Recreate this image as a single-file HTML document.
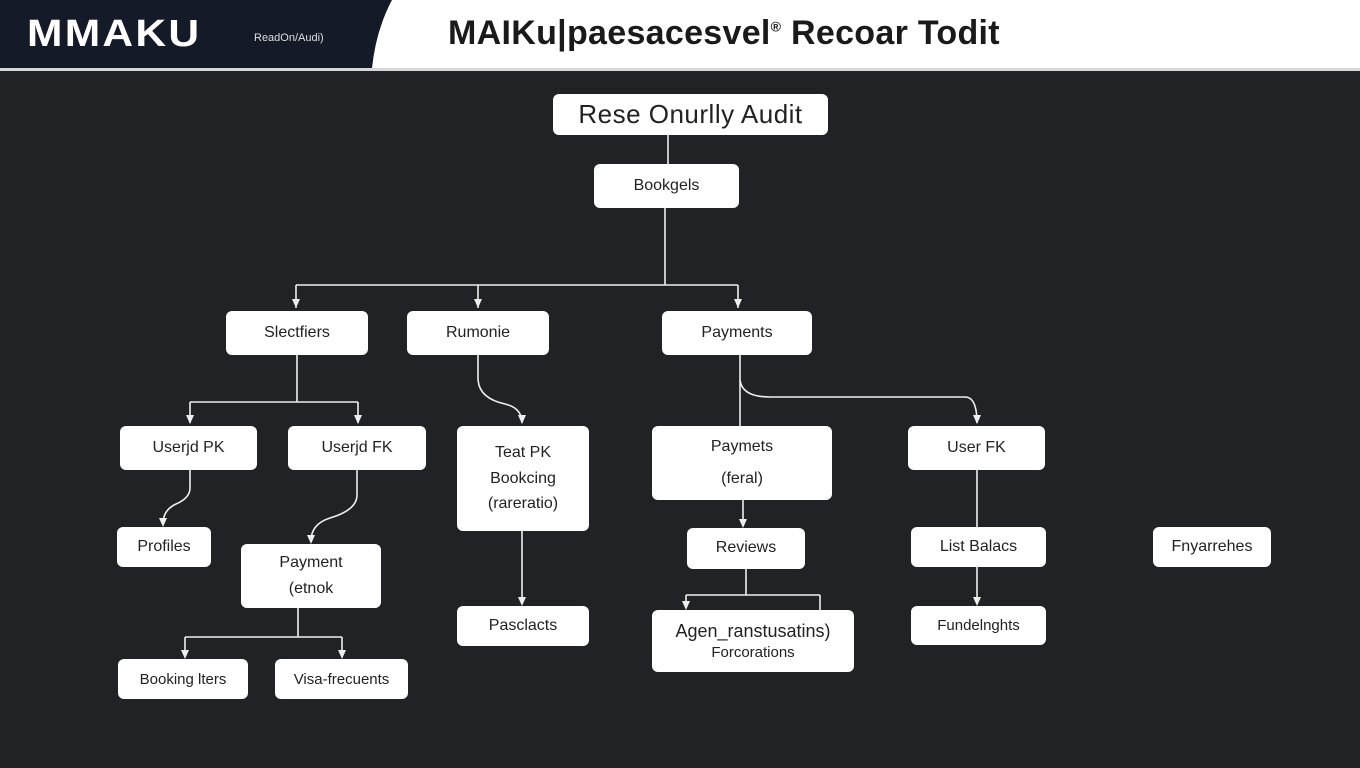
<!DOCTYPE html>
<html><head><meta charset="utf-8"><style>
body{margin:0;width:1360px;height:768px;overflow:hidden;background:#212225;font-family:"Liberation Sans",sans-serif;position:relative}
.b{position:absolute;background:#fff;border-radius:6px;color:#222;display:flex;flex-direction:column;align-items:center;justify-content:center;font-size:16px;text-align:center;line-height:1.4}
svg{position:absolute;left:0;top:0}
</style></head><body>
<div style="position:absolute;left:0;top:0;width:1360px;height:68px;background:#fff"></div>
<svg width="1360" height="72"><path d="M0 0 H392 Q376 30 372 68 H0 Z" fill="#151a28"/><rect x="0" y="68" width="1360" height="3" fill="#d8d8d8"/></svg>
<div style="position:absolute;left:27px;top:13px;color:#fff;font-size:38px;font-weight:bold;letter-spacing:2px;transform:scaleX(1.12);transform-origin:left">MMAKU</div>
<div style="position:absolute;left:254px;top:32px;color:#ddd;font-size:11px">ReadOn/Audi)</div>
<div style="position:absolute;left:448px;top:14px;color:#1a1a1a;font-size:34px;font-weight:bold;letter-spacing:0.3px">MAIKu|paesacesvel<sup style="font-size:14px">®</sup> Recoar Todit</div>

<svg width="1360" height="768" fill="none" stroke="#eee" stroke-width="1.6">
<g>
<path d="M668 135 V164"/>
<path d="M665 208 V285 M296 285 H738"/>
<path d="M296 285 V308 M478 285 V308 M738 285 V308"/>
<path d="M297 355 V402 M190 402 H358 M190 402 V423 M358 402 V423"/>
<path d="M478 355 V378 Q478 398 505 404 Q522 408 522 423"/>
<path d="M740 355 V426"/>
<path d="M740 380 Q742 397 770 397 H965 Q977 397 977 423"/>
<path d="M190 470 V488 Q190 498 176 504 Q163 510 163 524"/>
<path d="M357 470 V495 Q357 510 330 518 Q311 524 311 541"/>
<path d="M298 608 V637 M185 637 H342 M185 637 V656 M342 637 V656"/>
<path d="M522 531 V603"/>
<path d="M743 500 V525"/>
<path d="M746 569 V595 M686 595 H820 M686 595 V607 M820 595 V610"/>
<path d="M977 470 V527 M977 567 V603"/>
</g>
<g fill="#eee" stroke="none">
<path d="M292 299 h8 l-4 9z M474 299 h8 l-4 9z M734 299 h8 l-4 9z"/>
<path d="M186 415 h8 l-4 9z M354 415 h8 l-4 9z M518 415 h8 l-4 9z M973 415 h8 l-4 9z"/>
<path d="M159 518 h8 l-4 9z M307 535 h8 l-4 9z"/>
<path d="M181 650 h8 l-4 9z M338 650 h8 l-4 9z M518 597 h8 l-4 9z"/>
<path d="M739 519 h8 l-4 9z M682 601 h8 l-4 9z M973 597 h8 l-4 9z"/>
</g>
</svg>

<div class="b" style="left:553px;top:94px;width:275px;height:41px;font-size:26px;letter-spacing:0.5px">Rese Onurlly Audit</div>
<div class="b" style="left:594px;top:164px;width:145px;height:44px">Bookgels</div>
<div class="b" style="left:226px;top:311px;width:142px;height:44px">Slectfiers</div>
<div class="b" style="left:407px;top:311px;width:142px;height:44px">Rumonie</div>
<div class="b" style="left:662px;top:311px;width:150px;height:44px">Payments</div>
<div class="b" style="left:120px;top:426px;width:137px;height:44px">Userjd PK</div>
<div class="b" style="left:288px;top:426px;width:138px;height:44px">Userjd FK</div>
<div class="b" style="left:457px;top:426px;width:132px;height:105px;line-height:1.6">Teat PK<br>Bookcing<br>(rareratio)</div>
<div class="b" style="left:652px;top:426px;width:180px;height:74px;line-height:2">Paymets<br>(feral)</div>
<div class="b" style="left:908px;top:426px;width:137px;height:44px">User FK</div>
<div class="b" style="left:117px;top:527px;width:94px;height:40px">Profiles</div>
<div class="b" style="left:241px;top:544px;width:140px;height:64px;line-height:1.6">Payment<br>(etnok</div>
<div class="b" style="left:457px;top:606px;width:132px;height:40px">Pasclacts</div>
<div class="b" style="left:687px;top:528px;width:118px;height:41px">Reviews</div>
<div class="b" style="left:652px;top:610px;width:202px;height:62px;font-size:18px;line-height:1.3">Agen_ranstusatins)<span style="font-size:15px">Forcorations</span></div>
<div class="b" style="left:911px;top:527px;width:135px;height:40px">List Balacs</div>
<div class="b" style="left:911px;top:606px;width:135px;height:39px;font-size:15px">Fundelnghts</div>
<div class="b" style="left:1153px;top:527px;width:118px;height:40px">Fnyarrehes</div>
<div class="b" style="left:118px;top:659px;width:130px;height:40px;font-size:15px">Booking lters</div>
<div class="b" style="left:275px;top:659px;width:133px;height:40px;font-size:15px">Visa-frecuents</div>
</body></html>
